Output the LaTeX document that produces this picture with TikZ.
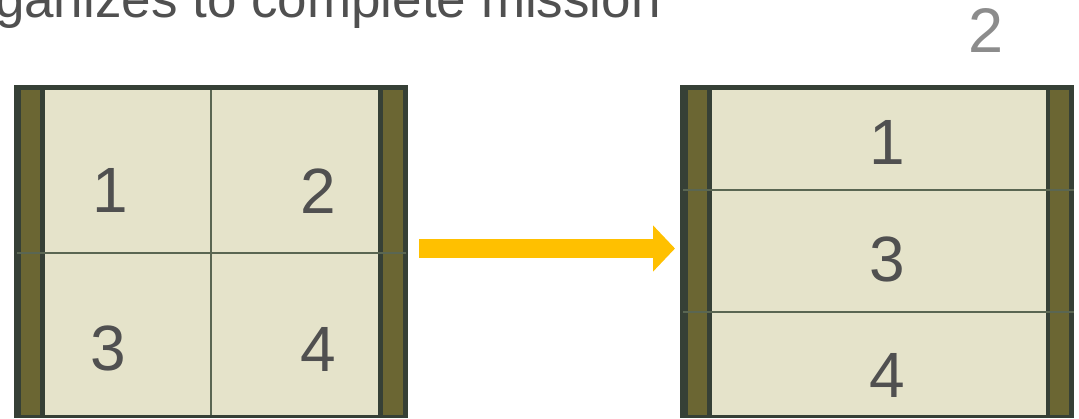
\documentclass[tikz,border=0pt]{standalone}
\usepackage{fontspec}
\setmainfont{Liberation Sans}
\usetikzlibrary{arrows.meta}
\definecolor{frameC}{HTML}{364036}
\definecolor{oliveC}{HTML}{6B6633}
\definecolor{creamC}{HTML}{E5E3CA}
\definecolor{lineC}{HTML}{5A6652}
\definecolor{numC}{HTML}{505050}
\definecolor{pageC}{HTML}{8C8C8C}
\definecolor{arrowY}{HTML}{FFC000}
\begin{document}
\begin{tikzpicture}[x=1pt,y=-1pt,
  box/.style={anchor=north west,inner sep=0pt,outer sep=0pt,draw=none},
  frame/.style={box,fill=frameC},
  strip/.style={box,fill=oliveC,minimum width=19pt,minimum height=325pt},
  panel/.style={box,fill=creamC,minimum height=325pt},
  divider/.style={draw=lineC,line width=1.5pt},
  num/.style={inner sep=0pt,text=numC,font=\fontsize{64}{64}\selectfont},
  yarrow/.style={draw=arrowY,line width=19pt,-{Triangle[width=45pt,length=22pt]}}]
\useasboundingbox (0,0) rectangle (1079,418);
% title (cut off at left)
\node[anchor=base east,inner sep=0pt,text=numC,font=\fontsize{53}{53}\selectfont] (title) at (661,17.5) {ganizes to complete mission};
\node[inner sep=0pt,text=pageC,font=\fontsize{63}{63}\selectfont] (page) at (986,31) {2};
% left box
\node[frame,minimum width=394pt,minimum height=333pt] (L) at (14,85) {};
\node[strip] (Ls1) at (21,90) {};
\node[strip,minimum width=20pt] (Ls2) at (383,90) {};
\node[panel,minimum width=333pt] (Lp) at (45,90) {};
\draw[divider] (17,253) -- (406,253);
\draw[divider] (211,90) -- (211,415);
\node[num] (l1) at (110,190) {1};
\node[num] (l2) at (318,191) {2};
\node[num] (l3) at (108,348) {3};
\node[num] (l4) at (318,349) {4};
% right box
\node[frame,minimum width=394pt,minimum height=333pt] (R) at (680,85) {};
\node[strip] (Rs1) at (688,90) {};
\node[strip] (Rs2) at (1050,90) {};
\node[panel,minimum width=334pt] (Rp) at (712,90) {};
\draw[divider] (683,190) -- (1074,190);
\draw[divider] (683,312) -- (1074,312);
\node[num] (r1) at (887,142) {1};
\node[num] (r3) at (887,259) {3};
\node[num] (r4) at (887,375.5) {4};
% arrow
\coordinate (as) at (419,248.5);
\coordinate (ae) at (675,248.5);
\draw[yarrow] (as) -- (ae);
\end{tikzpicture}
\end{document}
